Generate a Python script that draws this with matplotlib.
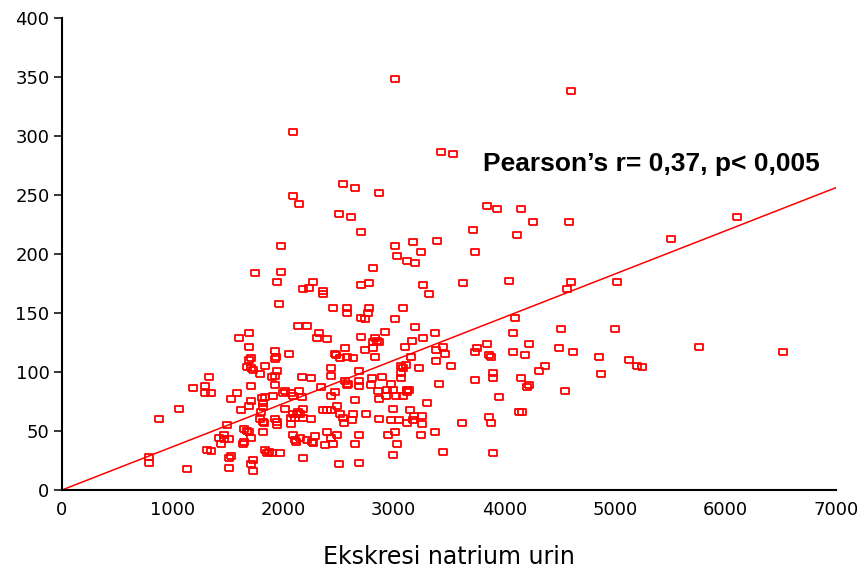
import numpy as np
import matplotlib
matplotlib.use("Agg")
import matplotlib.pyplot as plt

# data: ekskresi natrium urin (x) dan nilai sumbu y
natrium = [
    1742, 1688, 1600, 1688, 1706, 1688, 1670, 1706, 1724, 1795,
    1329, 1184, 1290, 1290, 1350, 1706, 1582, 1528, 1706, 1688,
    1058, 1615, 874, 1795, 1489, 1648, 1670, 1688, 1815, 1462,
    1422, 1462, 1510, 1706, 1438, 1633, 1648, 1308, 1350, 1528,
    1510, 1724, 1706, 784, 784, 1510, 1127, 1724,
    1978, 1980, 1944, 1959, 1926, 2050, 1935, 1926, 1835, 1896,
    1926, 1941, 1923, 1805, 1835, 1820, 1820, 1911, 2001, 2020,
    2067, 2091, 2146, 2173, 1797, 2016, 2091, 1826, 1814, 1926,
    1941, 1947, 2070, 2070, 2085, 2107, 1840, 1855, 1868, 1896, 1975,
    3026, 3246, 3116, 3192, 2809, 2266, 2236, 2176, 2357, 2357,
    2700, 2776, 3261, 3321, 2447, 2574, 2580, 2775, 2770, 2700,
    2740, 3080, 3011, 2137, 2212, 2323, 2308, 2393, 2700, 2920,
    3192, 3372, 3261, 3170, 2815, 2845, 2869, 2830, 3101, 2559,
    2468, 2477, 2513, 2580, 2634, 2740, 2815, 2830, 3387, 3442,
    3463, 3155, 3387, 3062, 3107, 3086, 3228, 3517, 2429, 2429,
    2173, 2251, 2685, 2800, 2890, 3065, 3065, 2559, 2580, 2589,
    2685, 2685, 2794, 2975, 2342, 3409, 2860, 2935, 2990, 2929,
    3122, 3140, 3116, 2435, 2468, 2863, 3020, 3086, 2649, 3297,
    2483, 2429, 2357, 2393, 2996, 3146, 2182, 2137, 2122, 2152,
    2107, 2182, 2513, 2543, 2634, 2619, 2550, 2754, 3182, 3258,
    3176, 3252, 2251, 2866, 2975, 3050, 3116, 3620, 2393, 2483,
    2429, 2685, 2950, 3011, 3246, 3372, 2116, 2152, 2212, 2257,
    2272, 2287, 2378, 2447, 2649, 3026, 2176, 2504, 2685, 2990, 3442,
    3011, 2085, 3427, 3535, 2540, 2649, 2866, 2085, 2143, 2504,
    2613, 2703, 3011, 3173, 3391,
    3720, 4117, 3735, 4603, 3846, 3937, 4151, 4262, 4588,
    3629, 4042, 4603, 4563, 5022, 4096, 4078, 4512, 5001, 3840,
    3750, 3735, 3864, 3879, 4078, 4223, 4187, 4494, 4624, 4859,
    5130, 5205, 5242, 4368, 4316, 4877, 3894, 3900, 4151, 4223,
    4208, 3735, 3952, 4548, 4136, 4157, 3861, 3879, 3894,
    5509, 6106, 5763, 6522,
]
nilai = [
    184, 133, 129, 121, 112, 110, 104, 103, 102, 98,
    96, 86, 88, 82, 82, 88, 82, 77, 75, 71,
    69, 68, 60, 60, 55, 52, 50, 49, 49, 47,
    44, 43, 43, 44, 39, 39, 41, 34, 33, 29,
    27, 25, 22, 28, 23, 19, 18, 16,
    207, 185, 176, 158, 118, 115, 113, 111, 105, 96,
    97, 101, 89, 78, 79, 74, 70, 80, 82, 84,
    82, 80, 84, 79, 66, 69, 64, 57, 58, 60,
    58, 55, 61, 56, 47, 42, 34, 31, 32, 31, 31,
    198, 202, 194, 192, 188, 176, 171, 170, 169, 166,
    174, 175, 174, 166, 154, 154, 150, 154, 150, 146,
    145, 154, 145, 139, 139, 133, 129, 128, 130, 134,
    138, 133, 129, 126, 125, 126, 125, 129, 121, 120,
    115, 114, 112, 113, 112, 119, 120, 113, 119, 121,
    115, 113, 109, 105, 106, 103, 103, 105, 103, 97,
    96, 95, 101, 95, 96, 99, 95, 92, 89, 90,
    92, 88, 89, 90, 87, 90, 84, 85, 85, 80,
    85, 85, 83, 80, 83, 77, 80, 80, 76, 74,
    71, 68, 68, 68, 69, 68, 69, 66, 64, 64,
    61, 61, 64, 61, 64, 59, 57, 64, 63, 63,
    59, 56, 60, 60, 59, 59, 57, 57, 49, 47,
    44, 47, 47, 49, 47, 49, 41, 44, 42, 41,
    40, 46, 38, 39, 39, 39, 27, 22, 23, 30, 32,
    348, 303, 286, 285, 259, 256, 252, 249, 242, 234,
    231, 219, 207, 210, 211,
    220, 216, 202, 338, 241, 238, 238, 227, 227,
    175, 177, 176, 170, 176, 146, 133, 136, 136, 124,
    120, 117, 114, 113, 117, 124, 114, 120, 117, 113,
    110, 105, 104, 105, 101, 98, 99, 95, 95, 89,
    87, 93, 79, 84, 66, 66, 62, 57, 31,
    213, 231, 121, 117,
]

# garis regresi (melalui titik nol)
slope = 0.0366
x_line = [0, 7000]

x_ticks = [0, 1000, 2000, 3000, 4000, 5000, 6000, 7000]
y_ticks = [0, 50, 100, 150, 200, 250, 300, 350, 400]
teks = "Pearson\u2019s r= 0,37, p< 0,005"

fig = plt.figure(figsize=(8.62, 5.72), dpi=100)
ax = fig.add_axes([0.0719, 0.1434, 0.8979, 0.8252])

# kotak merah kosong, sedikit lebih lebar dari tingginya
kotak = [(-1, -0.68), (1, -0.68), (1, 0.68), (-1, 0.68), (-1, -0.68)]
ax.plot(natrium, nilai, linestyle="none", marker=kotak, markersize=6.3,
        markerfacecolor="none", markeredgecolor="#ff0000", markeredgewidth=1.3)
ax.plot(x_line, [slope * v for v in x_line], color="#ff0000", linewidth=1.1)

ax.text(3807, 270, teks, fontsize=19, fontweight="bold",
        family="Liberation Sans", ha="left", va="baseline")

ax.set_xlim(0, 7000)
ax.set_ylim(0, 400)
ax.set_xticks(x_ticks)
ax.set_yticks(y_ticks)
ax.tick_params(axis="x", length=0, pad=8, labelsize=13)
ax.tick_params(axis="y", direction="out", length=6, width=1.1, pad=3, labelsize=13)

for s in ["top", "right"]:
    ax.spines[s].set_visible(False)
for s in ["left", "bottom"]:
    ax.spines[s].set_linewidth(1.5)

ax.set_xlabel("Ekskresi natrium urin", fontsize=17, labelpad=19)

fig.savefig("out.png", dpi=100)
